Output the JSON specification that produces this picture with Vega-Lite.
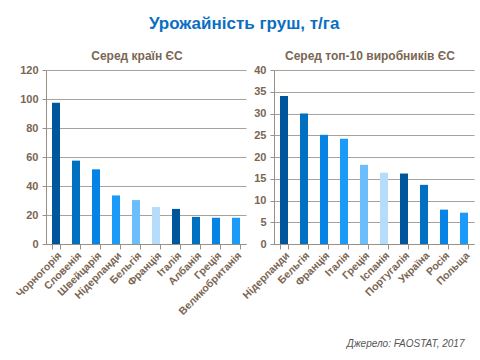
{
  "$schema": "https://vega.github.io/schema/vega-lite/v6.json",
  "background": "white",
  "padding": {"left": 14, "top": 15, "right": 2, "bottom": 5},
  "title": {"text": "Урожайність груш, т/га", "font": "Liberation Sans", "fontSize": 17, "fontWeight": "bold", "color": "#0A6FC2", "anchor": "middle", "offset": 17},
  "datasets": {
    "eu": [
      {"country": "Чорногорія", "value": 97.5, "shade": "c1"},
      {"country": "Словенія", "value": 57.5, "shade": "c2"},
      {"country": "Швейцарія", "value": 51.5, "shade": "c3"},
      {"country": "Нідерланди", "value": 33.5, "shade": "c4"},
      {"country": "Бельгія", "value": 30.3, "shade": "c5"},
      {"country": "Франція", "value": 25.5, "shade": "c6"},
      {"country": "Італія", "value": 24.2, "shade": "c1"},
      {"country": "Албанія", "value": 18.7, "shade": "c2"},
      {"country": "Греція", "value": 18.1, "shade": "c3"},
      {"country": "Великобританія", "value": 18.1, "shade": "c4"}
    ],
    "top": [
      {"country": "Нідерланди", "value": 34.0, "shade": "c1"},
      {"country": "Бельгія", "value": 30.0, "shade": "c2"},
      {"country": "Франція", "value": 25.1, "shade": "c3"},
      {"country": "Італія", "value": 24.2, "shade": "c4"},
      {"country": "Греція", "value": 18.2, "shade": "c5"},
      {"country": "Іспанія", "value": 16.4, "shade": "c6"},
      {"country": "Португалія", "value": 16.2, "shade": "c1"},
      {"country": "Україна", "value": 13.6, "shade": "c2"},
      {"country": "Росія", "value": 7.9, "shade": "c3"},
      {"country": "Польща", "value": 7.2, "shade": "c4"}
    ]
  },
  "config": {
    "view": {"stroke": null},
    "font": "Liberation Sans",
    "axis": {
      "labelFont": "Liberation Sans", "labelFontWeight": "bold", "labelFontSize": 11, "labelColor": "#7A6653",
      "domainColor": "#9A9088", "tickColor": "#9A9088", "gridColor": "#A8A29C", "titleFont": "Liberation Sans"
    },
    "title": {"font": "Liberation Sans", "fontSize": 12, "fontWeight": "bold", "color": "#7A6653"}
  },
  "hconcat": [
    {
      "width": 200, "height": 174,
      "title": {"text": "Серед країн  ЄС", "offset": 1, "dx": -9},
      "data": {"name": "eu"},
      "mark": {"type": "bar"},
      "encoding": {
        "x": {"field": "country", "type": "nominal", "sort": null,
              "scale": {"paddingInner": 0.6, "paddingOuter": 0.3},
              "axis": {"title": null, "labelAngle": -45, "labelAlign": "right", "labelBaseline": "top", "tickBand": "extent", "tickSize": 5, "labelPadding": 1, "labelFontSize": 10.5}},
        "y": {"field": "value", "type": "quantitative",
              "scale": {"domain": [0, 120], "nice": false},
              "axis": {"title": null, "values": [0, 20, 40, 60, 80, 100, 120], "tickSize": 4, "labelPadding": 4}},
        "color": {"field": "shade", "type": "nominal", "legend": null,
                  "scale": {"domain": ["c1", "c2", "c3", "c4", "c5", "c6"], "range": ["#00569C", "#0070C0", "#0684E6", "#1A9BFA", "#6CBDFB", "#B5DDFB"]}}
      }
    },
    {
      "width": 200, "height": 174,
      "title": {"text": "Серед топ-10 виробників  ЄС", "offset": 1, "dx": -4},
      "data": {"name": "top"},
      "mark": {"type": "bar"},
      "encoding": {
        "x": {"field": "country", "type": "nominal", "sort": null,
              "scale": {"paddingInner": 0.6, "paddingOuter": 0.3},
              "axis": {"title": "Джерело: FAOSTAT,  2017", "titleAnchor": "end", "titleAlign": "right", "titleFontStyle": "italic", "titleFontWeight": "normal", "titleFontSize": 10, "titleColor": "#555555", "titlePadding": 38, "titleX": 190,
                       "labelAngle": -45, "labelAlign": "right", "labelBaseline": "top", "tickBand": "extent", "tickSize": 5, "labelPadding": 1, "labelFontSize": 10.5}},
        "y": {"field": "value", "type": "quantitative",
              "scale": {"domain": [0, 40], "nice": false},
              "axis": {"title": null, "values": [0, 5, 10, 15, 20, 25, 30, 35, 40], "tickSize": 4, "labelPadding": 4}},
        "color": {"field": "shade", "type": "nominal", "legend": null,
                  "scale": {"domain": ["c1", "c2", "c3", "c4", "c5", "c6"], "range": ["#00569C", "#0070C0", "#0684E6", "#1A9BFA", "#6CBDFB", "#B5DDFB"]}}
      }
    }
  ],
  "spacing": -6
}
